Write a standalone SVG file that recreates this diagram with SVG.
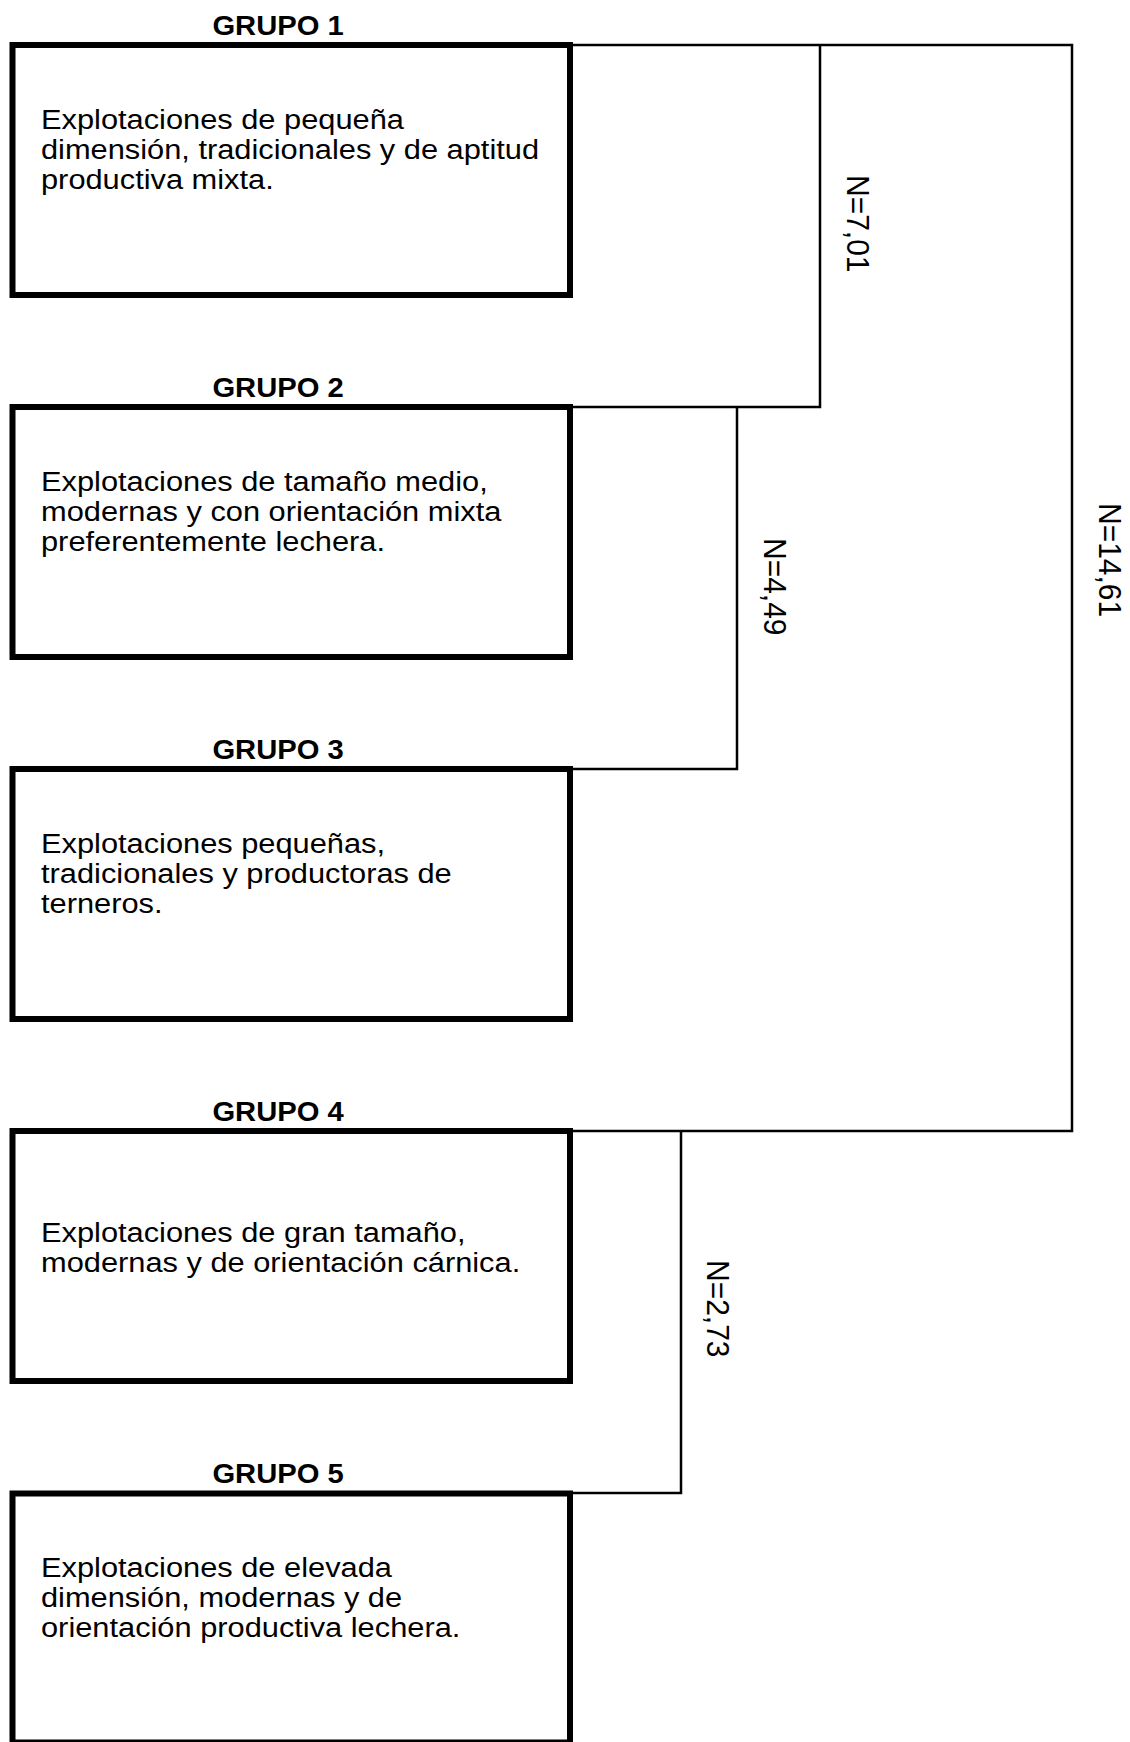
<svg xmlns="http://www.w3.org/2000/svg" width="1130" height="1742" viewBox="0 0 1130 1742">
<style>
.box{fill:none;stroke:#000;stroke-width:6}
.conn{fill:none;stroke:#000;stroke-width:2.5}
.title{font-family:"Liberation Sans",Arial,sans-serif;font-weight:bold;font-size:27px;text-anchor:middle;fill:#000}
.body{font-family:"Liberation Sans",Arial,sans-serif;font-size:28px;fill:#000}
.lbl{font-family:"Liberation Sans",Arial,sans-serif;font-size:30px;fill:#000}
</style>
<rect width="1130" height="1742" fill="#fff"/>
<g id="connectors">
<polyline class="conn" points="570,45 1072,45 1072,1131 570,1131"/>
<polyline class="conn" points="820,45 820,407 570,407"/>
<polyline class="conn" points="737,407 737,769 570,769"/>
<polyline class="conn" points="681,1131 681,1493 570,1493"/>
<text class="lbl" transform="translate(847,175) scale(1.05,1) rotate(90)">N=7,01</text>
<text class="lbl" transform="translate(764,538) scale(1.05,1) rotate(90)">N=4,49</text>
<text class="lbl" transform="translate(1099,503) scale(1.05,1) rotate(90)">N=14,61</text>
<text class="lbl" transform="translate(707,1260) scale(1.05,1) rotate(90)">N=2,73</text>
</g>
<g id="grupo1">
<rect class="box" x="12.5" y="45" width="557.5" height="250"/>
<text class="title" transform="translate(278,35) scale(1.08,1)">GRUPO 1</text>
<text class="body" transform="translate(41,129) scale(1.1,1)"><tspan x="0" y="0">Explotaciones de pequeña</tspan><tspan x="0" y="30">dimensión, tradicionales y de aptitud</tspan><tspan x="0" y="60">productiva mixta.</tspan></text>
</g>
<g id="grupo2">
<rect class="box" x="12.5" y="407" width="557.5" height="250"/>
<text class="title" transform="translate(278,397) scale(1.08,1)">GRUPO 2</text>
<text class="body" transform="translate(41,491) scale(1.1,1)"><tspan x="0" y="0">Explotaciones de tamaño medio,</tspan><tspan x="0" y="30">modernas y con orientación mixta</tspan><tspan x="0" y="60">preferentemente lechera.</tspan></text>
</g>
<g id="grupo3">
<rect class="box" x="12.5" y="769" width="557.5" height="250"/>
<text class="title" transform="translate(278,759) scale(1.08,1)">GRUPO 3</text>
<text class="body" transform="translate(41,853) scale(1.1,1)"><tspan x="0" y="0">Explotaciones pequeñas,</tspan><tspan x="0" y="30">tradicionales y productoras de</tspan><tspan x="0" y="60">terneros.</tspan></text>
</g>
<g id="grupo4">
<rect class="box" x="12.5" y="1131" width="557.5" height="250"/>
<text class="title" transform="translate(278,1121) scale(1.08,1)">GRUPO 4</text>
<text class="body" transform="translate(41,1242) scale(1.1,1)"><tspan x="0" y="0">Explotaciones de gran tamaño,</tspan><tspan x="0" y="30">modernas y de orientación cárnica.</tspan></text>
</g>
<g id="grupo5">
<rect class="box" x="12.5" y="1493.5" width="557.5" height="249"/>
<text class="title" transform="translate(278,1483) scale(1.08,1)">GRUPO 5</text>
<text class="body" transform="translate(41,1577) scale(1.1,1)"><tspan x="0" y="0">Explotaciones de elevada</tspan><tspan x="0" y="30">dimensión, modernas y de</tspan><tspan x="0" y="60">orientación productiva lechera.</tspan></text>
</g>
</svg>
